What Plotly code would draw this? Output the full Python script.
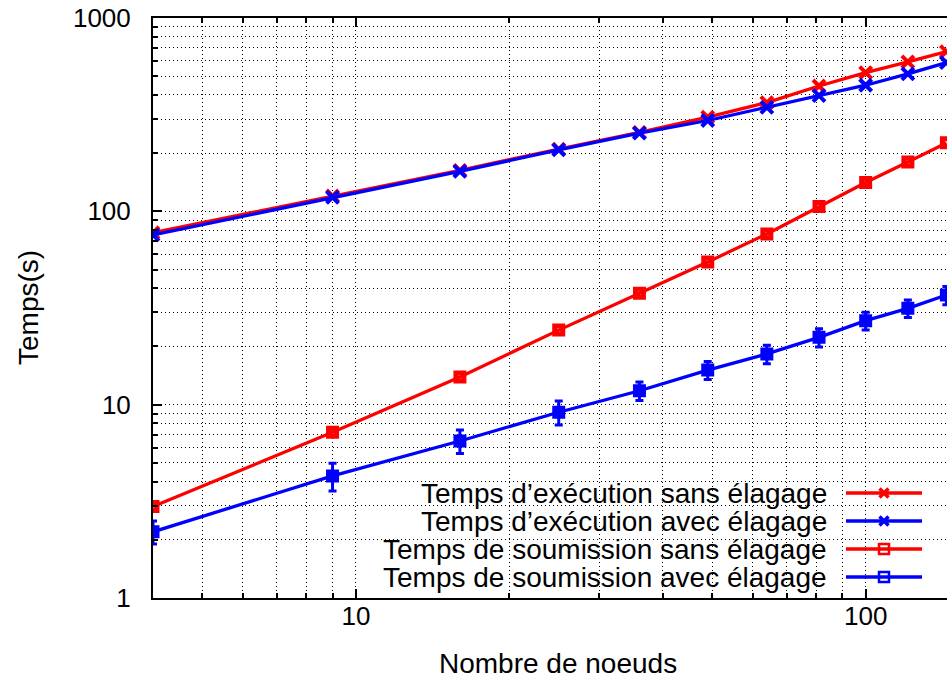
import plotly.graph_objects as go
import numpy as np

# ---------------- data ----------------
nodes = [4, 9, 16, 25, 36, 49, 64, 81, 100, 121, 144]
exec_sans = [77.5, 120, 163, 210, 256, 307, 365, 445, 522, 593, 670]
exec_avec = [75.5, 118, 161, 208, 254, 295, 345, 397, 449, 514, 588]
soum_sans = [2.97, 7.2, 13.9, 24.3, 37.7, 54.7, 76.4, 106, 141, 180, 226]
soum_avec = [2.20, 4.28, 6.49, 9.14, 11.8, 15.1, 18.3, 22.3, 27.2, 31.5, 36.9]
soum_avec_err = [0.30, 0.70, 0.90, 1.30, 1.30, 1.60, 2.00, 2.40, 2.90, 3.30, 4.00]

names = ["Temps d\u2019exécution sans élagage",
         "Temps d\u2019exécution avec élagage",
         "Temps de soumission sans élagage",
         "Temps de soumission avec élagage"]

y_tickvals = [1, 10, 100, 1000]
y_ticktext = ["1", "10", "100", "1000"]
x_tickvals = [10, 100]
x_ticktext = ["10", "100"]
x_minor = [5, 6, 7, 8, 9, 20, 30, 40, 50, 60, 70, 80, 90, 200]
y_minor = [m * d for d in (1, 10, 100) for m in range(2, 10)]

RED = "#ff0000"
BLUE = "#0000ff"
FONT = "Liberation Sans"
FS_TICK = 26
FS_TEXT = 28

# ---------------- layout geometry (pixels) ----------------
W, H = 947, 682
L, T, B = 153, 18, 84  # margins
PW = W - L
PH = H - T - B

def px_x(p):
    return (p - L) / PW

def px_y(p):
    return (H - B - p) / PH

fig = go.Figure()

fig.add_trace(go.Scatter(x=nodes, y=exec_sans, mode="lines+markers",
                         line=dict(color=RED, width=3.3),
                         marker=dict(symbol="x-thin-open", size=12, color=RED,
                                     line=dict(color=RED, width=4)),
                         name=names[0], showlegend=False))
fig.add_trace(go.Scatter(x=nodes, y=exec_avec, mode="lines+markers",
                         line=dict(color=BLUE, width=3.3),
                         marker=dict(symbol="x-thin-open", size=12, color=BLUE,
                                     line=dict(color=BLUE, width=4)),
                         name=names[1], showlegend=False))
fig.add_trace(go.Scatter(x=nodes, y=soum_sans, mode="lines+markers",
                         line=dict(color=RED, width=3.3),
                         marker=dict(symbol="square-open", size=8, color=RED,
                                     line=dict(color=RED, width=5)),
                         name=names[2], showlegend=False))
fig.add_trace(go.Scatter(x=nodes, y=soum_avec, mode="lines+markers",
                         line=dict(color=BLUE, width=3.3),
                         marker=dict(symbol="square-open", size=8, color=BLUE,
                                     line=dict(color=BLUE, width=5)),
                         error_y=dict(type="data", array=soum_avec_err, visible=True,
                                      color=BLUE, thickness=3, width=4),
                         name=names[3], showlegend=False))

grid = dict(showgrid=True, gridcolor="#000000", gridwidth=1, griddash="1px,3px")

fig.update_xaxes(type="log", range=[np.log10(4), np.log10(144.4)],
                 tickmode="array", tickvals=x_tickvals, ticktext=x_ticktext,
                 ticks="inside", ticklen=9, tickwidth=1.5, tickcolor="#000",
                 showline=True, linecolor="#000", linewidth=2, mirror="allticks",
                 zeroline=False, ticklabelstandoff=-6,
                 tickfont=dict(family=FONT, size=FS_TICK, color="#000"),
                 minor=dict(tickmode="array", tickvals=x_minor, ticks="inside",
                            ticklen=5, tickwidth=1.5, tickcolor="#000",
                            showgrid=True, gridcolor="#000", gridwidth=1,
                            griddash="1px,3px"),
                 **grid)
fig.update_yaxes(type="log", range=[0, 3],
                 tickmode="array", tickvals=y_tickvals, ticktext=y_ticktext,
                 ticks="inside", ticklen=9, tickwidth=1.5, tickcolor="#000",
                 showline=True, linecolor="#000", linewidth=2, mirror=False,
                 zeroline=False, ticklabelstandoff=15,
                 tickfont=dict(family=FONT, size=FS_TICK, color="#000"),
                 minor=dict(tickmode="array", tickvals=y_minor, ticks="inside",
                            ticklen=5, tickwidth=1.5, tickcolor="#000",
                            showgrid=True, gridcolor="#000", gridwidth=1,
                            griddash="1px,3px"),
                 **grid)

shapes = []
# opaque key box (hides grid, below traces)
shapes.append(dict(type="rect", xref="paper", yref="paper",
                   x0=px_x(293), x1=px_x(937), y0=0, y1=px_y(483),
                   fillcolor="white", line=dict(width=0), layer="between"))

annotations = []
rows = [493, 521, 549, 577]
colors = [RED, BLUE, RED, BLUE]
kinds = ["x", "x", "sq", "sq"]
for nm, ry, c, k in zip(names, rows, colors, kinds):
    annotations.append(dict(x=px_x(829), y=px_y(ry), xref="paper", yref="paper",
                            text=nm, showarrow=False, xanchor="right", yanchor="middle",
                            font=dict(family=FONT, size=FS_TEXT, color="#000")))
    shapes.append(dict(type="line", xref="paper", yref="paper",
                       x0=px_x(846), x1=px_x(922), y0=px_y(ry), y1=px_y(ry),
                       line=dict(color=c, width=3.3), layer="above"))
    cx, cy = px_x(884), px_y(ry)
    if k == "x":
        for dy in (-1, 1):
            shapes.append(dict(type="line", xref="paper", yref="paper",
                               xsizemode="pixel", ysizemode="pixel",
                               xanchor=cx, yanchor=cy,
                               x0=-4.5, x1=4.5, y0=-4.5 * dy, y1=4.5 * dy,
                               line=dict(color=c, width=3.5), layer="above"))
    else:
        shapes.append(dict(type="rect", xref="paper", yref="paper",
                           xsizemode="pixel", ysizemode="pixel",
                           xanchor=cx, yanchor=cy,
                           x0=-5, x1=5, y0=-5, y1=5,
                           fillcolor="rgba(0,0,0,0)",
                           line=dict(color=c, width=2.5), layer="above"))

# axis titles
annotations.append(dict(x=px_x(558), y=px_y(663), xref="paper", yref="paper",
                        text="Nombre de noeuds", showarrow=False,
                        xanchor="center", yanchor="middle",
                        font=dict(family=FONT, size=FS_TEXT, color="#000")))
annotations.append(dict(x=px_x(28), y=px_y(308), xref="paper", yref="paper",
                        text="Temps(s)", showarrow=False, textangle=-90,
                        xanchor="center", yanchor="middle",
                        font=dict(family=FONT, size=FS_TEXT, color="#000")))

fig.update_layout(width=W, height=H,
                  margin=dict(l=L, r=0, t=T, b=B, pad=0),
                  paper_bgcolor="white", plot_bgcolor="white",
                  showlegend=False, shapes=shapes, annotations=annotations,
                  font=dict(family=FONT, size=FS_TEXT, color="#000"))

fig.write_html("out.html")
